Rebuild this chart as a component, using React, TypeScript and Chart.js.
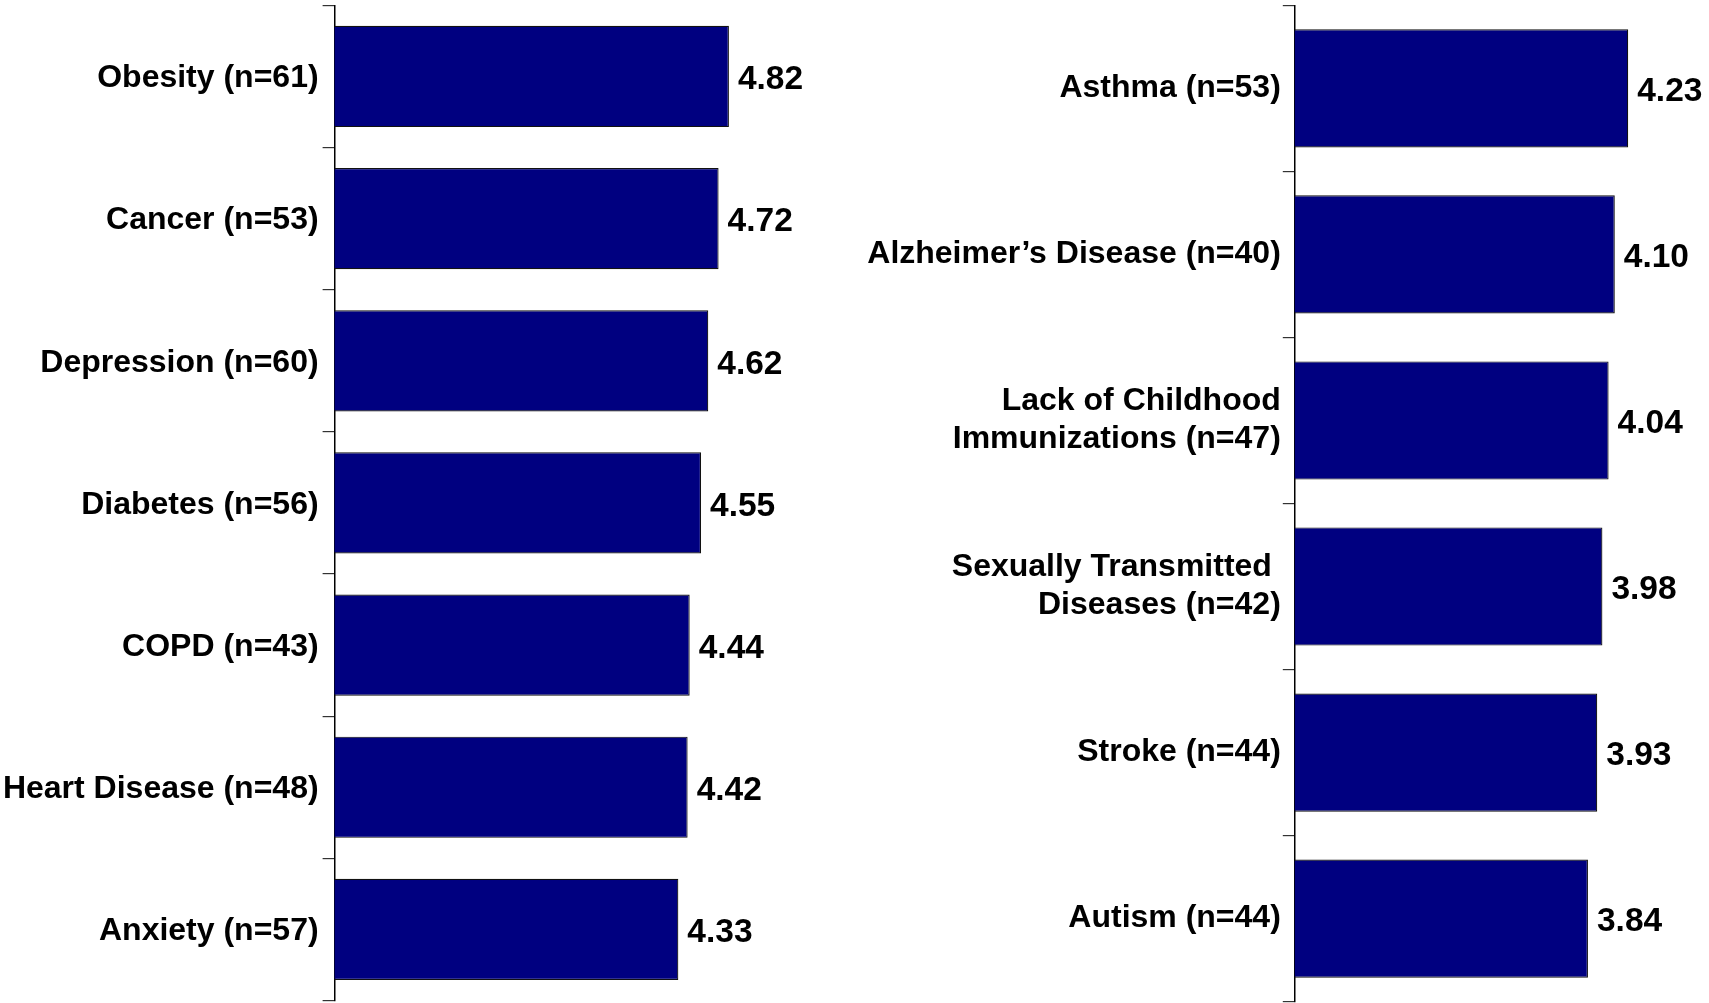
import React, { useEffect, useRef } from "react";
import { Chart, registerables } from "chart.js";

Chart.register(...registerables);

const leftCategories: string[] = [
  "Obesity (n=61)",
  "Cancer (n=53)",
  "Depression (n=60)",
  "Diabetes (n=56)",
  "COPD (n=43)",
  "Heart Disease (n=48)",
  "Anxiety (n=57)",
];
const leftValues: number[] = [4.82, 4.72, 4.62, 4.55, 4.44, 4.42, 4.33];

const rightCategories: (string | string[])[] = [
  "Asthma (n=53)",
  "Alzheimer\u2019s Disease (n=40)",
  ["Lack of Childhood", "Immunizations (n=47)"],
  ["Sexually Transmitted ", "Diseases (n=42)"],
  "Stroke (n=44)",
  "Autism (n=44)",
];
const rightValues: number[] = [4.23, 4.1, 4.04, 3.98, 3.93, 3.84];

const axisMin = 1;
const axisMax = 5;

const FONT = '"Liberation Sans", Arial, Helvetica, sans-serif';
const BAR_COLOR = "#000080";

const valueLabelPlugin = {
  id: "valueLabels",
  afterDatasetsDraw(chart: any) {
    const ctx = chart.ctx;
    const meta = chart.getDatasetMeta(0);
    const data = chart.data.datasets[0].data as number[];
    ctx.save();
    ctx.font = `bold 33.5px ${FONT}`;
    ctx.fillStyle = "#000";
    ctx.textAlign = "left";
    ctx.textBaseline = "middle";
    meta.data.forEach((bar: any, i: number) => {
      ctx.fillText(data[i].toFixed(2), bar.x + 9, bar.y + 3.5);
    });
    ctx.restore();
  },
};

type PanelProps = {
  labels: (string | string[])[];
  values: number[];
  left: number;
  width: number;
  axisWidth: number;
  padding: { top: number; bottom: number; right: number };
  tickPadding: number;
  labelOffset: number;
};

function Panel({ labels, values, left, width, axisWidth, padding, tickPadding, labelOffset }: PanelProps) {
  const ref = useRef<HTMLCanvasElement | null>(null);
  useEffect(() => {
    if (!ref.current) return;
    const chart = new Chart(ref.current, {
      type: "bar",
      data: {
        labels: labels as any,
        datasets: [
          {
            data: values,
            backgroundColor: BAR_COLOR,
            borderColor: "#111",
            borderWidth: 1.2,
            categoryPercentage: 1,
            barPercentage: 0.712,
          },
        ],
      },
      options: {
        indexAxis: "y",
        responsive: false,
        animation: false,
        layout: {
          padding: { left: 0, top: padding.top, bottom: padding.bottom, right: padding.right },
        },
        plugins: {
          legend: { display: false },
          tooltip: { enabled: false },
          title: { display: false },
        },
        scales: {
          x: {
            display: false,
            min: axisMin,
            max: axisMax,
          },
          y: {
            afterFit(scale: any) {
              scale.width = axisWidth;
              scale.paddingTop = 0;
              scale.paddingBottom = 0;
            },
            grid: {
              display: true,
              offset: true,
              drawOnChartArea: false,
              drawTicks: true,
              tickLength: 12,
              color: "#333",
              lineWidth: 1.2,
            },
            border: { display: true, color: "#000", width: 1.5 },
            ticks: {
              color: "#000",
              padding: tickPadding,
              labelOffset,
              autoSkip: false,
              font: { family: FONT, size: 32, weight: "bold", lineHeight: 1.19 },
            },
          },
        },
      },
      plugins: [valueLabelPlugin],
    });
    return () => chart.destroy();
  }, []);
  return (
    <canvas
      ref={ref}
      width={width}
      height={1003}
      style={{ position: "absolute", left, top: 0, width, height: 1003 }}
    />
  );
}

export default function App() {
  return (
    <div
      style={{
        position: "absolute",
        left: 0,
        top: 0,
        width: 1709,
        height: 1003,
        background: "#fff",
        overflow: "hidden",
      }}
    >
      <Panel
        labels={leftCategories}
        values={leftValues}
        left={0}
        width={850}
        axisWidth={334.6}
        padding={{ top: 5.4, bottom: 2.5, right: 102.5 }}
        tickPadding={4}
        labelOffset={2}
      />
      <Panel
        labels={rightCategories}
        values={rightValues}
        left={700}
        width={1009}
        axisWidth={594.8}
        padding={{ top: 5.4, bottom: 1.4, right: 1.3 }}
        tickPadding={2}
        labelOffset={0}
      />
    </div>
  );
}
